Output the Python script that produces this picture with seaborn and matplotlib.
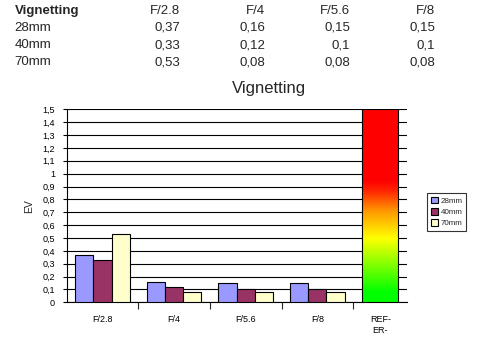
import numpy as np
import pandas as pd
import seaborn as sns
import matplotlib
matplotlib.use("Agg")
import matplotlib.pyplot as plt
from matplotlib.colors import LinearSegmentedColormap
from matplotlib.patches import Rectangle, Patch

# ---- data ----
apertures = ["F/2.8", "F/4", "F/5.6", "F/8"]
lenses = ["28mm", "40mm", "70mm"]
ev_28mm = [0.37, 0.16, 0.15, 0.15]
ev_40mm = [0.33, 0.12, 0.10, 0.10]
ev_70mm = [0.53, 0.08, 0.08, 0.08]
ref_label = "REF-\nER-"
ref_value = 1.5
colors = ["#9999FF", "#993366", "#FFFFCC"]

sns.set_style("white")
plt.rcParams["font.family"] = ["Liberation Sans", "DejaVu Sans"]

df = pd.DataFrame({
    "aperture": apertures * 3,
    "lens": [l for l in lenses for _ in apertures],
    "ev": ev_28mm + ev_40mm + ev_70mm,
})

W, H = 491, 343
fig = plt.figure(figsize=(W / 100, H / 100), dpi=100)
fig.patch.set_facecolor("white")

def fx(px):
    return px / W

def fy(py):
    return 1 - py / H

# ---- data table at top ----
def fmt(v):
    return ("%g" % v).replace(".", ",")

tfs = 9.5
fig.text(fx(14.7), fy(14.3), "Vignetting", fontsize=tfs, fontweight="bold",
         ha="left", va="baseline")
col_x = [180, 265, 350, 435]
for cx, a in zip(col_x, apertures):
    fig.text(fx(cx), fy(14.3), a, fontsize=tfs, ha="right", va="baseline")
row_y = [31.0, 48.0, 65.3]
for ry, lab, vals in zip(row_y, lenses, [ev_28mm, ev_40mm, ev_70mm]):
    fig.text(fx(14.7), fy(ry), lab, fontsize=tfs, ha="left", va="baseline")
    for cx, v in zip(col_x, vals):
        fig.text(fx(cx), fy(ry), fmt(v), fontsize=tfs, ha="right", va="baseline")

# ---- chart ----
ax_l, ax_r, ax_t, ax_b = 66.7, 407.0, 109.3, 302.3
ax = fig.add_axes([fx(ax_l), fy(ax_b), fx(ax_r - ax_l), (ax_b - ax_t) / H])

sns.barplot(data=df, x="aperture", y="ev", hue="lens", order=apertures,
            hue_order=lenses, palette=colors, saturation=1, width=0.76,
            edgecolor="black", linewidth=0.8, ax=ax, legend=False, zorder=3)

cat_w = 71.6
xmax = (ax_r - ax_l) / cat_w - 0.5

# gradient reference bar
ref_l = (361.7 - ax_l) / cat_w - 0.5
ref_r = (398.3 - ax_l) / cat_w - 0.5
cmap = LinearSegmentedColormap.from_list(
    "ref", [(0.0, "#00FF00"), (0.05, "#00FF00"), (0.33, "#FFFF00"),
            (0.47, "#FF9900"), (0.58, "#FF2200"), (0.63, "#FF0000"),
            (1.0, "#FF0000")])
grad = np.linspace(0, 1, 256).reshape(-1, 1)
ax.imshow(grad, extent=[ref_l, ref_r, 0, ref_value], origin="lower",
          aspect="auto", cmap=cmap, zorder=3)
ax.add_patch(Rectangle((ref_l, 0), ref_r - ref_l, ref_value, fill=False,
                       edgecolor="black", linewidth=0.8, zorder=4))
ax.set_xlim(-0.5, xmax)
ax.set_ylim(0, 1.5)

# grid and spines
yt = np.round(np.arange(0, 1.51, 0.1), 1)
ax.set_yticks(yt)
ax.set_yticklabels([fmt(v) for v in yt])
ax.yaxis.grid(True, color="black", linewidth=0.8)
ax.xaxis.grid(False)
ax.set_axisbelow(True)
for s in ["top", "right"]:
    ax.spines[s].set_visible(False)
for s in ["left", "bottom"]:
    ax.spines[s].set_color("black")
    ax.spines[s].set_linewidth(0.8)

ax.tick_params(axis="y", direction="out", length=3, width=0.8, pad=5.5,
               labelsize=6.5, colors="black", left=True)
ax.set_xticks([0.5, 1.5, 2.5, 3.5])
ax.set_xticklabels([])
ax.tick_params(axis="x", which="major", direction="out", length=5, width=0.8,
               bottom=True)
ax.set_xticks([0, 1, 2, 3, 3.88], minor=True)
ax.set_xticklabels(apertures + [ref_label], minor=True, linespacing=1.35)
ax.tick_params(axis="x", which="minor", length=0, pad=9, labelsize=6.5,
               colors="black", bottom=True)
ax.set_xlabel("")
ax.set_ylabel("EV", fontsize=7.5, labelpad=6)

fig.text(fx(269), fy(89), "Vignetting", fontsize=12, ha="center", va="center")

# legend
handles = [Patch(facecolor=c, edgecolor="black", linewidth=0.8) for c in colors]
leg = fig.legend(handles, lenses, loc="upper left",
                 bbox_to_anchor=(fx(427.3), fy(193.3)), fontsize=5.8,
                 frameon=True, fancybox=False, shadow=False,
                 handlelength=0.9, handleheight=0.9, handletextpad=0.4,
                 labelspacing=0.4, borderpad=0.4, borderaxespad=0)
leg.get_frame().set_edgecolor("black")
leg.get_frame().set_linewidth(0.8)

fig.savefig("out.png", dpi=100, facecolor="white")
